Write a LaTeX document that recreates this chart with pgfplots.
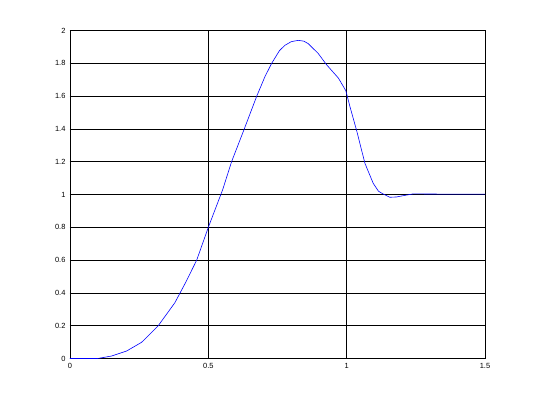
\documentclass[border=0pt]{standalone}
\usepackage{fontspec}
\setmainfont{Liberation Sans}
\usepackage{pgfplots}
\pgfplotsset{compat=1.18}
\begin{document}
\begin{tikzpicture}
\useasboundingbox (-70bp,-43.5bp) rectangle (466bp,358.5bp);
\begin{axis}[
  at={(0,0)}, anchor=south west,
  scale only axis, width=415bp, height=328bp,
  xmin=0, xmax=1.5, ymin=0, ymax=2,
  xtick={0,0.5,1,1.5}, ytick={0,0.2,...,2.01},
  grid=major,
  major grid style={black, line width=0.7pt},
  axis line style={black, line width=0.7pt},
  tick style={black, line width=0.5pt},
  major tick length=3bp,
  tick align=inside,
  ticklabel style={font=\fontsize{7.5}{9}\selectfont},
  /pgf/number format/assume math mode=true,
  xticklabel style={yshift=-1bp},
  yticklabel style={xshift=-1bp},
  axis background/.style={fill=white},
]
\addplot[blue, line width=0.6pt] coordinates {
(0,0) (0.1,0) (0.15,0.015) (0.205,0.046) (0.259,0.099) (0.319,0.2) (0.379,0.34)
(0.42,0.47) (0.458,0.6) (0.5,0.8) (0.552,1.03) (0.584,1.2) (0.63,1.40) (0.675,1.60)
(0.705,1.72) (0.729,1.80) (0.757,1.877) (0.777,1.91) (0.80,1.932) (0.825,1.94) (0.845,1.935)
(0.861,1.92) (0.897,1.86) (0.928,1.79) (0.97,1.71) (0.997,1.633) (1.012,1.535)
(1.036,1.39) (1.066,1.19) (1.096,1.068) (1.115,1.02) (1.132,1.003) (1.156,0.983)
(1.18,0.985) (1.205,0.993) (1.241,1.004) (1.3,1.003) (1.4,1.002) (1.5,1.002)
};
\end{axis}
\end{tikzpicture}
\end{document}
